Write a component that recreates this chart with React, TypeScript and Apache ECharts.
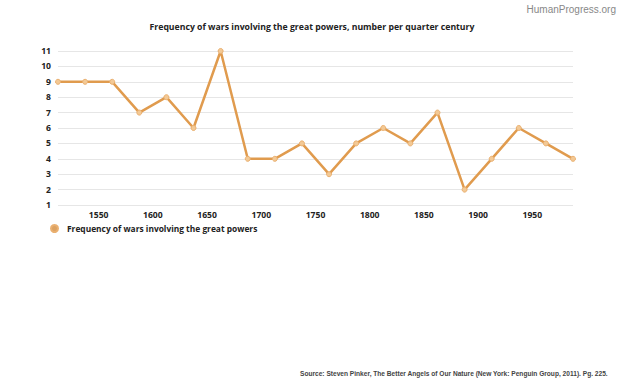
import React, { useEffect, useRef } from "react";
import * as echarts from "echarts";

const years = [1512.5, 1537.5, 1562.5, 1587.5, 1612.5, 1637.5, 1662.5, 1687.5, 1712.5, 1737.5, 1762.5, 1787.5, 1812.5, 1837.5, 1862.5, 1887.5, 1912.5, 1937.5, 1962.5, 1987.5];
const wars = [9, 9, 9, 7, 8, 6, 11, 4, 4, 5, 3, 5, 6, 5, 7, 2, 4, 6, 5, 4];
const xTicks = [1550, 1600, 1650, 1700, 1750, 1800, 1850, 1900, 1950];
const seriesName = "Frequency of wars involving the great powers";
const titleText = "Frequency of wars involving the great powers, number per quarter century";
const sourceText = "Source: Steven Pinker, The Better Angels of Our Nature (New York: Penguin Group, 2011). Pg. 225.";

export default function App() {
  const ref = useRef<HTMLDivElement>(null);
  useEffect(() => {
    if (!ref.current) return;
    const chart = echarts.init(ref.current, null, { renderer: "svg" });
    chart.setOption({
      animation: false,
      backgroundColor: "#fff",
      textStyle: { fontFamily: "Open Sans" },
      title: {
        text: titleText,
        left: "center",
        top: 17,
        textStyle: { fontFamily: "Open Sans", fontWeight: "bold", fontSize: 8.7, color: "#222" },
      },
      graphic: [
        {
          type: "text",
          right: 8,
          top: 4,
          style: { text: "HumanProgress.org", fontFamily: "Liberation Sans", fontSize: 10, fill: "#888" },
        },
        {
          type: "text",
          left: 300,
          top: 370,
          style: { text: sourceText, fontFamily: "Liberation Sans", fontSize: 6.6, fontWeight: "bold", fill: "#444" },
        },
      ],
      legend: {
        left: 50,
        top: 224,
        padding: 0,
        icon: "circle",
        itemWidth: 7,
        itemHeight: 7,
        data: [{ name: seriesName, itemStyle: { color: "#dca262" } }],
        textStyle: { fontFamily: "Open Sans", fontWeight: "bold", fontSize: 8.4, color: "#222", padding: [0, 0, 0, 4] },
      },
      grid: { left: 58, right: 51, top: 51, bottom: 181, containLabel: false },
      xAxis: {
        type: "value",
        min: 1512.5,
        max: 1987.5,
        splitLine: { show: false },
        axisLine: { show: false },
        axisTick: { show: false },
        axisLabel: {
          customValues: xTicks,
          formatter: (v: number) => String(v),
          margin: 5,
          fontFamily: "Open Sans",
          fontWeight: "bold",
          fontSize: 8.6,
          color: "#222",
        },
      },
      yAxis: {
        type: "value",
        min: 1,
        max: 11,
        interval: 1,
        axisLine: { show: false },
        axisTick: { show: false },
        splitLine: { lineStyle: { color: "#e6e6e6", width: 1 } },
        axisLabel: { margin: 7, fontFamily: "Open Sans", fontWeight: "bold", fontSize: 8.6, color: "#222" },
      },
      series: [
        {
          name: seriesName,
          type: "line",
          data: years.map((y, i) => [y, wars[i]]),
          symbol: "circle",
          symbolSize: 5,
          lineStyle: { color: "#e09b4e", width: 2.5 },
          itemStyle: { color: "#f3c995", borderColor: "#eab070", borderWidth: 1 },
        },
      ],
    });
    return () => chart.dispose();
  }, []);
  return <div ref={ref} style={{ width: 624, height: 386, position: "absolute", left: 0, top: 0 }} />;
}
